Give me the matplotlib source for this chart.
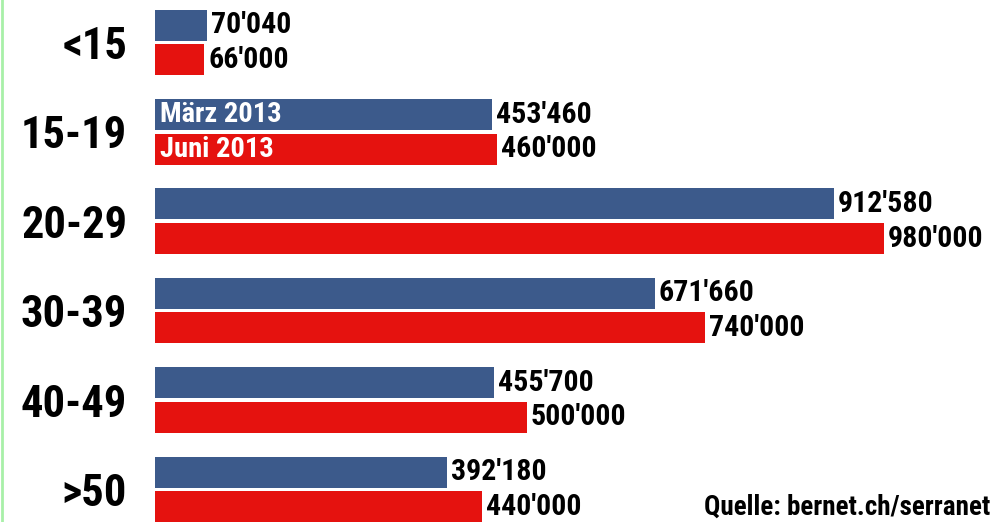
import matplotlib
matplotlib.use("Agg")
import matplotlib.pyplot as plt
import numpy as np
from matplotlib import font_manager

categories = ["<15", "15-19", "20-29", "30-39", "40-49", ">50"]
maerz = [70040, 453460, 912580, 671660, 455700, 392180]
juni = [66000, 460000, 980000, 740000, 500000, 440000]
series_names = ["März 2013", "Juni 2013"]
source = "Quelle: bernet.ch/serranet"

names = {f.name for f in font_manager.fontManager.ttflist}
fam = [f for f in ["Liberation Sans Narrow", "Roboto Condensed", "Liberation Sans", "DejaVu Sans"] if f in names]

def fmt(v):
    return f"{v:,}".replace(",", "'")

blue = "#3c5a8b"
red = "#e5120f"

W, H, dpi = 992, 522, 100
fig = plt.figure(figsize=(W / dpi, H / dpi), dpi=dpi)
left_px = 155
ax = fig.add_axes([left_px / W, 0, (W - left_px) / W, 1])
px_per_unit = 729 / 980000
ax.set_xlim(0, (W - left_px) / px_per_unit)
spacing = 89.4
ax.set_ylim((H - 42.5) / spacing, -42.5 / spacing)

y = np.arange(len(categories))
off = 17.3 / spacing
h = 31 / spacing
ax.barh(y - off, maerz, height=h, color=blue)
ax.barh(y + off, juni, height=h, color=red)

for yi, v in zip(y, maerz):
    ax.text(v + 4 / px_per_unit, yi - off, fmt(v), va="center", ha="left",
            fontsize=21.5, fontweight="bold", family=fam, color="black")
for yi, v in zip(y, juni):
    ax.text(v + 4 / px_per_unit, yi + off, fmt(v), va="center", ha="left",
            fontsize=21.5, fontweight="bold", family=fam, color="black")

ax.text(5 / px_per_unit, 1 - off, series_names[0], va="center", ha="left",
        fontsize=20.5, fontweight="bold", family=fam, color="white")
ax.text(5 / px_per_unit, 1 + off, series_names[1], va="center", ha="left",
        fontsize=20.5, fontweight="bold", family=fam, color="white")

ax.set_yticks(y)
ax.set_yticklabels(categories, fontsize=32, fontweight="bold", family=fam)
ax.tick_params(axis="y", length=0, pad=20)
ax.set_xticks([])
for s in ax.spines.values():
    s.set_visible(False)

fig.text(990 / W, 1 / H, source, ha="right", va="bottom", fontsize=19.5,
         fontweight="bold", family=fam)
fig.add_artist(plt.Line2D([1.5 / W, 1.5 / W], [0, 1], color="#a8f0a8", lw=2))

fig.savefig("out.png", dpi=dpi)
